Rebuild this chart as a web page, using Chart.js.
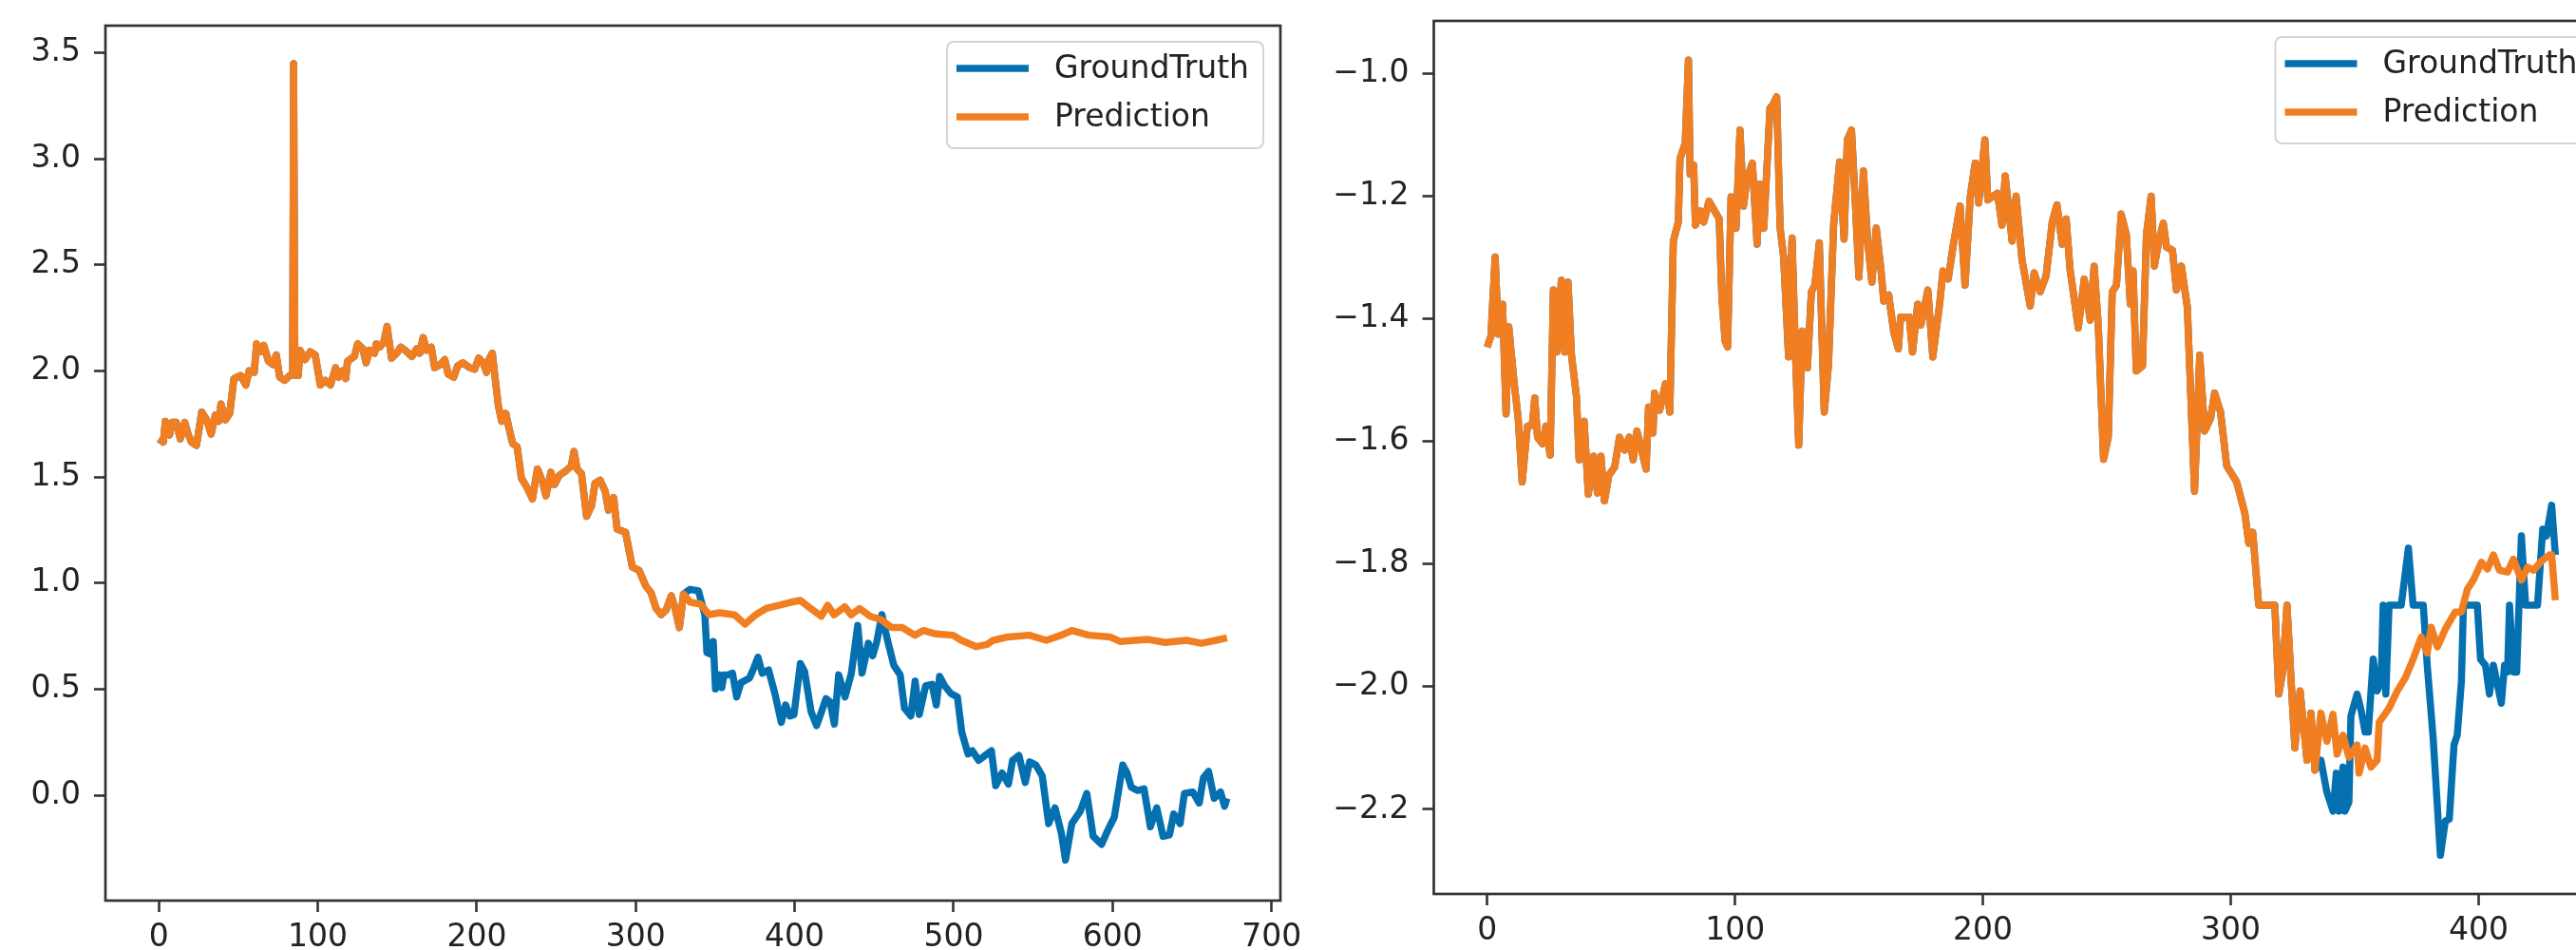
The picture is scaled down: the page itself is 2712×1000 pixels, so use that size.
<!DOCTYPE html>
<html>
<head>
<meta charset="utf-8">
<script src="https://cdn.jsdelivr.net/npm/chart.js@4.4.1/dist/chart.umd.min.js"></script>
<style>
  html, body { margin: 0; padding: 0; background: #fff; }
  body { width: 2712px; height: 1000px; overflow: hidden; position: relative; }
  canvas { position: absolute; top: 0; }
  #leftChart { left: 0; }
  #rightChart { left: 1400px; }
</style>
</head>
<body>
<canvas id="leftChart" width="1400" height="1000"></canvas>
<canvas id="rightChart" width="1400" height="1000"></canvas>
<script>
// --- values ---
const seriesLabels = ['GroundTruth', 'Prediction'];

// left panel: truth and prediction coincide until about x = 330
const leftSharedX = [0, 2.8, 4.1, 6.7, 8.4, 10.9, 13.5, 16.3, 18.4, 20.5, 23.7, 27, 30.1, 32.9, 35.5, 37.6, 39.1, 41.9, 44.6, 47.2,
  51.5, 54.7, 56.8, 60, 61.5, 64.3, 66, 69, 71.7, 73.9, 76, 79.2, 82.4, 84.2, 84.8, 85.6, 87.7, 88.8, 92, 95.2,
  98.4, 101.6, 104.8, 108, 111.2, 113.3, 115.5, 117.6, 118.7, 123, 125.1, 128.3, 130.4, 132.5, 135.7, 136.8, 139, 141.5, 143.6, 146.4,
  149.6, 152.2, 155, 159.2, 162.4, 164.1, 166.3, 168.4, 171.4, 173.5, 177.3, 179.9, 182, 185.5, 188, 191.2, 195.5, 198.7, 201.2, 204,
  206.2, 207.6, 209.8, 211.5, 213.6, 215.7, 218.3, 220, 222.6, 225.4, 228.1, 231.8, 235, 238.2, 241.4, 243.5, 246.7, 248.8, 252, 256.3,
  259.5, 261.2, 263.1, 265.9, 269.1, 272.3, 274.4, 277.6, 280.8, 282.9, 286.1, 288.3, 293.6, 297.9, 302.1, 306.4, 309.6, 312.8, 316, 319.2,
  322.4, 324.8, 327.5, 330.1];
const leftSharedY = [1.679, 1.664, 1.762, 1.697, 1.757, 1.757, 1.679, 1.757, 1.702, 1.664, 1.649, 1.806, 1.769, 1.702, 1.791, 1.762, 1.844, 1.769, 1.799, 1.963,
  1.978, 1.933, 2.0, 1.993, 2.127, 2.09, 2.12, 2.045, 2.03, 2.075, 1.97, 1.955, 1.978, 1.98, 3.448, 1.98, 1.978, 2.097, 2.053, 2.09,
  2.075, 1.933, 1.955, 1.933, 2.015, 1.97, 2.0, 1.963, 2.045, 2.068, 2.127, 2.105, 2.038, 2.097, 2.083, 2.127, 2.112, 2.135, 2.209, 2.06,
  2.083, 2.112, 2.097, 2.068, 2.105, 2.083, 2.157, 2.097, 2.112, 2.015, 2.03, 2.053, 1.985, 1.97, 2.023, 2.038, 2.015, 2.008, 2.06, 2.038,
  1.993, 2.053, 2.083, 1.97, 1.836, 1.762, 1.799, 1.739, 1.657, 1.642, 1.493, 1.448, 1.396, 1.537, 1.478, 1.411, 1.522, 1.463, 1.508, 1.53,
  1.552, 1.62, 1.537, 1.515, 1.314, 1.366, 1.47, 1.485, 1.433, 1.343, 1.403, 1.254, 1.239, 1.075, 1.06, 0.985, 0.955, 0.881, 0.851, 0.873,
  0.94, 0.88, 0.79, 0.948];

const leftTruthX = [334.2, 339.5, 343.5, 344.8, 347.5, 348.8, 350.2, 352.8, 354.2, 355.5, 358.2, 360.9, 363.5, 366.2, 371.6, 374.2,
  376.9, 379.6, 383.6, 387.6, 391.6, 394.3, 397, 399.6, 403.6, 406.3, 410.3, 413.8, 417, 419.7, 422.3, 425, 427.7, 431.7,
  435.7, 439.7, 442.4, 446.4, 449.1, 451.7, 454.9, 458.4, 462.4, 466.4, 469.1, 473.1, 475.8, 478.4, 482.4, 486.4, 489.1,
  491.2, 494.4, 498.4, 502.4, 505.1, 509.1, 511.8, 515.8, 519.8, 523.8, 526.5, 530.5, 534.5, 537.1, 541.1, 545.1, 547.8,
  551.8, 555.8, 559.8, 563.8, 567.8, 570.4, 574.4, 579.8, 583.8, 587.8, 593.1, 597.1, 601.1, 606.4, 609.1, 611.8, 615.8,
  619.8, 623.8, 627.8, 631.8, 635.8, 638.5, 642.5, 645.2, 650.5, 654.5, 657.2, 660.4, 663.9, 667.9, 670.5, 672];
const leftTruthY = [0.97, 0.963, 0.851, 0.672, 0.664, 0.724, 0.50, 0.567, 0.507, 0.567, 0.567, 0.575, 0.463, 0.53, 0.552, 0.597,
  0.65, 0.575, 0.59, 0.478, 0.343, 0.425, 0.373, 0.38, 0.62, 0.582, 0.395, 0.328, 0.395, 0.455, 0.44, 0.335, 0.567, 0.463,
  0.575, 0.80, 0.575, 0.716, 0.657, 0.724, 0.851, 0.731, 0.612, 0.567, 0.41, 0.373, 0.537, 0.38, 0.515, 0.522, 0.425,
  0.56, 0.515, 0.478, 0.463, 0.298, 0.194, 0.209, 0.164, 0.187, 0.209, 0.045, 0.105, 0.052, 0.164, 0.187, 0.06, 0.157,
  0.142, 0.09, -0.134, -0.06, -0.179, -0.306, -0.134, -0.074, 0.008, -0.194, -0.232, -0.164, -0.104, 0.142, 0.105, 0.037, 0.022,
  0.03, -0.149, -0.06, -0.194, -0.187, -0.089, -0.134, 0.008, 0.015, -0.037, 0.082, 0.112, -0.015, 0.015, -0.052, -0.015];

const leftPredX = [334.2, 340.8, 346.1, 352.8, 362.1, 368.8, 375.4, 382.1, 390.1, 398.1, 403.5, 410.1, 416.8, 420.8, 424.8, 431.5,
  435.5, 440.9, 447.5, 454.2, 460.9, 467.6, 475.6, 480.9, 488.9, 499.6, 504.9, 514.3, 521, 525, 534.3, 547.6, 558.3, 567.7,
  574.4, 585, 598.4, 605, 622.4, 633.1, 646.4, 655.8, 665.1, 672];
const leftPredY = [0.91, 0.90, 0.851, 0.86, 0.85, 0.806, 0.85, 0.88, 0.895, 0.91, 0.918, 0.88, 0.843, 0.895, 0.85, 0.888,
  0.85, 0.88, 0.843, 0.828, 0.79, 0.79, 0.754, 0.776, 0.76, 0.754, 0.73, 0.70, 0.71, 0.73, 0.746, 0.754, 0.73, 0.754,
  0.776, 0.754, 0.746, 0.724, 0.734, 0.72, 0.73, 0.716, 0.73, 0.742];

const leftXTicks = [0, 100, 200, 300, 400, 500, 600, 700];
const leftYTicks = [0.0, 0.5, 1.0, 1.5, 2.0, 2.5, 3.0, 3.5];

// right panel: truth and prediction coincide until about x = 334
const rightSharedX = [0, 1.5, 3.2, 4.5, 6.2, 7.6, 8.7, 10.7, 12.5, 14.1, 16.2, 18.2, 19.2, 20.3, 22.3, 23.7, 25.4, 26.7, 28.1, 29.9,
  31.3, 32.6, 34, 36, 37.1, 39.1, 40.8, 42.9, 44.5, 45.9, 47.3, 49.1, 51.4, 53.4, 55.5, 57.3, 58.9, 60.4, 62.3, 64.1,
  65.1, 66.9, 67.5, 69.6, 71.9, 73.7, 75.1, 77.1, 77.8, 79.9, 81.2, 81.9, 83.3, 84, 86, 87.4, 89.5, 93.6, 94.7, 96,
  97, 98.4, 100.4, 102, 103.4, 104.8, 107, 108.9, 110, 111.6, 114.1, 115.2, 116.8, 118.2, 119.6, 121.6, 123, 124.4, 125.7, 127.1,
  129.2, 130.8, 132.2, 134, 136, 137.7, 139.8, 142.2, 144, 145.3, 147, 148.6, 150, 151.8, 153.5, 155.2, 157, 159, 160, 162,
  164.1, 165.9, 166.8, 170.3, 171.6, 173.7, 175, 177.8, 179.8, 182.6, 183.9, 186, 188, 190.8, 192.8, 194.9, 196.9, 198.3, 200.8, 202,
  205.9, 207.7, 209, 211.8, 213.4, 215.8, 219.1, 220.7, 223.1, 225.5, 228, 229.9, 232, 233.6, 235.2,
  238.5, 240.9, 243.3, 244.9, 246.6, 248.7, 250.6, 252.2, 253.9, 255.8, 257.9, 259.5, 260.6, 261.9, 264.4, 266, 267.9, 269.2,
  270.8, 272.8, 274.1, 276.5, 278.1, 280.1, 282.5, 283.8, 285.4, 287.5, 289.5, 291.9, 293.5, 295.9, 298.4, 302.4, 305.7, 307.3,
  308.9, 311.3, 317.8, 319.4, 321, 322.7, 325.9, 328, 330.8, 332.4, 334];
const rightSharedY = [-1.446, -1.428, -1.299, -1.425, -1.376, -1.555, -1.413, -1.498, -1.562, -1.666, -1.575, -1.573, -1.529, -1.593, -1.604, -1.575, -1.622, -1.353, -1.454, -1.337,
  -1.454, -1.340, -1.459, -1.526, -1.630, -1.567, -1.686, -1.624, -1.684, -1.624, -1.697, -1.655, -1.642, -1.593, -1.614, -1.593, -1.630, -1.583, -1.614, -1.645,
  -1.544, -1.586, -1.521, -1.549, -1.506, -1.552, -1.273, -1.242, -1.139, -1.113, -0.978, -1.164, -1.149, -1.247, -1.224, -1.242, -1.208, -1.237, -1.366, -1.436,
  -1.446, -1.201, -1.252, -1.092, -1.216, -1.172, -1.146, -1.278, -1.180, -1.252, -1.056, -1.051, -1.038, -1.252, -1.299, -1.462, -1.268, -1.459, -1.606, -1.420,
  -1.480, -1.356, -1.345, -1.276, -1.552, -1.475, -1.245, -1.144, -1.270, -1.108, -1.092, -1.216, -1.332, -1.159, -1.273, -1.340, -1.252, -1.325, -1.371, -1.361,
  -1.423, -1.449, -1.397, -1.397, -1.454, -1.376, -1.410, -1.353, -1.462, -1.374, -1.322, -1.335, -1.281, -1.216, -1.345, -1.201, -1.146, -1.211, -1.108, -1.206,
  -1.195, -1.247, -1.167, -1.273, -1.200, -1.304, -1.379, -1.325, -1.356, -1.330, -1.242, -1.214, -1.278, -1.237, -1.320,
  -1.415, -1.335, -1.402, -1.314, -1.413, -1.629, -1.593, -1.356, -1.345, -1.229, -1.263, -1.376, -1.322, -1.485, -1.477, -1.263, -1.200, -1.314,
  -1.278, -1.244, -1.283, -1.288, -1.353, -1.314, -1.381, -1.516, -1.681, -1.459, -1.583, -1.562, -1.521, -1.552, -1.640, -1.666, -1.717, -1.766,
  -1.748, -1.867, -1.867, -2.012, -1.976, -1.867, -2.100, -2.007, -2.120, -2.043, -2.136];

const rightTruthX = [336.4, 338.8, 341.3, 342.6, 343.7, 345.3, 346.1, 347.7, 348.5, 351, 352.6, 354.2, 355.5, 357.5, 359.1, 360.7,
  361.5, 362.6, 363.9, 368.8, 371.7, 373.6, 377.7, 379.3, 381.7, 384.6, 386.6, 388.2, 390.1, 391.4, 393.1, 393.9, 399.5,
  400.8, 402.8, 404.4, 406, 407.6, 409.2, 410.5, 411.7, 412.5, 414.1, 415.4, 417.3, 419, 423.8, 425.9, 427.4, 429.5, 431];
const rightTruthY = [-2.120, -2.172, -2.203, -2.141, -2.203, -2.131, -2.203, -2.188, -2.048, -2.012, -2.038, -2.074, -2.074, -1.955, -2.007, -1.991,
  -1.867, -2.012, -1.867, -1.867, -1.774, -1.867, -1.867, -1.965, -2.084, -2.275, -2.219, -2.216, -2.095, -2.079, -1.991, -1.867, -1.867,
  -1.955, -1.965, -2.012, -1.965, -1.996, -2.027, -1.965, -1.976, -1.867, -1.976, -1.976, -1.754, -1.867, -1.867, -1.743, -1.754, -1.704, -1.785];

const rightPredX = [336.4, 338.8, 341.3, 342.9, 345.3, 347.7, 351, 351.8, 354.2, 356.6, 359.1, 359.9, 363.9, 367.2, 370.4, 373.6,
  376.9, 379.3, 380.9, 383.4, 386.6, 390.6, 393.1, 395.5, 397.9, 401.2, 403.6, 406, 408.4, 411.7, 414.1, 417.3, 419.8, 422.2,
  425.4, 428.7, 429.5, 431];
const rightPredY = [-2.043, -2.089, -2.045, -2.110, -2.079, -2.115, -2.095, -2.141, -2.100, -2.131, -2.120, -2.058, -2.035, -2.007, -1.986, -1.955,
  -1.919, -1.945, -1.903, -1.935, -1.906, -1.878, -1.878, -1.841, -1.826, -1.797, -1.808, -1.785, -1.810, -1.813, -1.792, -1.826, -1.805, -1.810,
  -1.795, -1.785, -1.785, -1.859];

const rightXTicks = [0, 100, 200, 300, 400];
const rightYTicks = [-2.2, -2.0, -1.8, -1.6, -1.4, -1.2, -1.0];

const COLORS = { truth: '#0570b0', pred: '#f17f22', axis: '#333', text: '#222' };

Chart.defaults.font.family = '"DejaVu Sans", sans-serif';
Chart.defaults.font.size = 33;
Chart.defaults.color = COLORS.text;

function toPoints(xs, ys) {
  return xs.map((x, i) => ({ x: x, y: ys[i] }));
}

function fmt(v) {
  return v.toFixed(1).replace('-', '\u2212');
}

// axes frame (all four spines) plus a matplotlib style legend box, upper right
const frameAndLegend = {
  id: 'frameAndLegend',
  afterDraw(chart) {
    const { ctx, chartArea: a } = chart;
    ctx.save();
    ctx.strokeStyle = COLORS.axis;
    ctx.lineWidth = 2.7;
    ctx.strokeRect(a.left, a.top, a.right - a.left, a.bottom - a.top);

    ctx.font = '33px "DejaVu Sans"';
    const sets = chart.data.datasets;
    const textW = Math.max(...sets.map(d => ctx.measureText(d.label).width));
    const w = 113 + textW + 15, h = 112;
    const x = a.right - 18 - w, y = a.top + 17;
    ctx.beginPath();
    ctx.roundRect(x, y, w, h, 7);
    ctx.fillStyle = 'rgba(255,255,255,0.8)';
    ctx.fill();
    ctx.strokeStyle = '#d4d4d4';
    ctx.lineWidth = 2;
    ctx.stroke();

    sets.forEach((d, i) => {
      const ry = y + 28 + i * 51;
      ctx.beginPath();
      ctx.moveTo(x + 10, ry);
      ctx.lineTo(x + 86, ry);
      ctx.strokeStyle = d.borderColor;
      ctx.lineWidth = 7.5;
      ctx.stroke();
      ctx.fillStyle = COLORS.text;
      ctx.textBaseline = 'middle';
      ctx.fillText(d.label, x + 113, ry + 1);
    });
    ctx.restore();
  }
};

function makePanel(canvasId, cfg) {
  const tickGrid = {
    drawOnChartArea: false,
    drawTicks: true,
    tickLength: 12,
    tickWidth: 2.6,
    tickColor: COLORS.axis
  };
  return new Chart(document.getElementById(canvasId), {
    type: 'line',
    data: {
      datasets: [
        { label: seriesLabels[0], data: cfg.truth, borderColor: COLORS.truth, order: 1 },
        { label: seriesLabels[1], data: cfg.pred, borderColor: COLORS.pred, order: 0 }
      ]
    },
    options: {
      responsive: false,
      animation: false,
      devicePixelRatio: 1,
      layout: { padding: cfg.padding },
      elements: {
        point: { radius: 0 },
        line: { borderWidth: 7.5, tension: 0, borderJoinStyle: 'round', fill: false }
      },
      plugins: { legend: { display: false }, tooltip: { enabled: false } },
      scales: {
        x: {
          type: 'linear',
          min: cfg.xMin,
          max: cfg.xMax,
          afterFit: s => { s.height = cfg.xAxisHeight; s.paddingLeft = 0; s.paddingRight = 0; },
          afterBuildTicks: s => { s.ticks = cfg.xTicks.map(v => ({ value: v })); },
          grid: tickGrid,
          border: { display: false },
          ticks: { padding: 8, autoSkip: false, maxRotation: 0, callback: v => String(v) }
        },
        y: {
          type: 'linear',
          min: cfg.yMin,
          max: cfg.yMax,
          afterFit: s => { s.width = cfg.yAxisWidth; s.paddingTop = 0; s.paddingBottom = 0; },
          afterBuildTicks: s => { s.ticks = cfg.yTicks.map(v => ({ value: v })); },
          grid: tickGrid,
          border: { display: false },
          ticks: { padding: 14, autoSkip: false, callback: v => fmt(v) }
        }
      }
    },
    plugins: [frameAndLegend]
  });
}

makePanel('leftChart', {
  truth: toPoints(leftSharedX.concat(leftTruthX), leftSharedY.concat(leftTruthY)),
  pred: toPoints(leftSharedX.concat(leftPredX), leftSharedY.concat(leftPredY)),
  xMin: -33.6, xMax: 705.6, yMin: -0.497, yMax: 3.627,
  xTicks: leftXTicks, yTicks: leftYTicks,
  padding: { top: 27, right: 52, bottom: 0, left: 0 },
  yAxisWidth: 111, xAxisHeight: 52
});

makePanel('rightChart', {
  truth: toPoints(rightSharedX.concat(rightTruthX), rightSharedY.concat(rightTruthY)),
  pred: toPoints(rightSharedX.concat(rightPredX), rightSharedY.concat(rightPredY)),
  xMin: -21.55, xMax: 452.55, yMin: -2.338, yMax: -0.914,
  xTicks: rightXTicks, yTicks: rightYTicks,
  padding: { top: 22, right: 53.5, bottom: 0, left: 0 },
  yAxisWidth: 109.5, xAxisHeight: 59
});
</script>
</body>
</html>
